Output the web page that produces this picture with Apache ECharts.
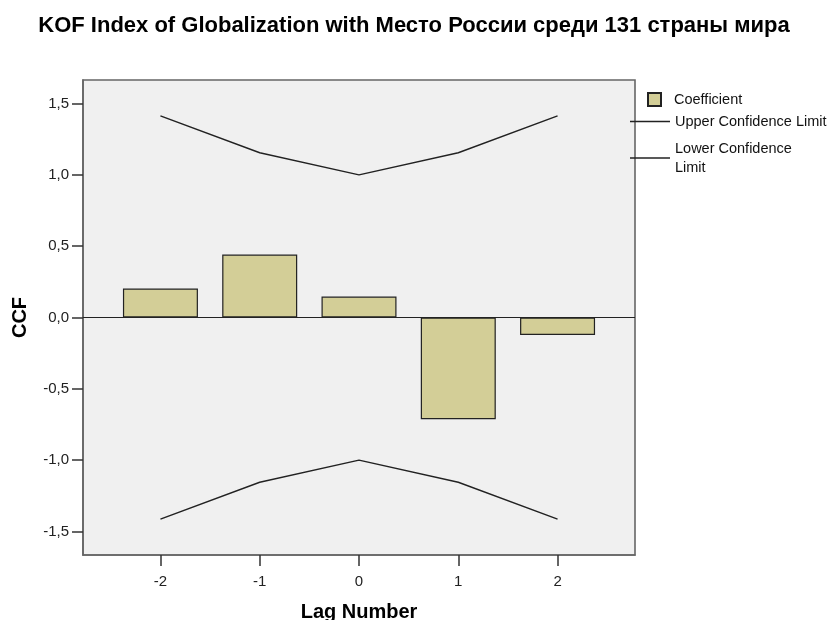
<!DOCTYPE html>
<html>
<head>
<meta charset="utf-8">
<script src="https://cdn.jsdelivr.net/npm/echarts@6/dist/echarts.min.js"></script>
<style>
html,body{margin:0;padding:0;background:#fff;}
#chart{width:828px;height:620px;}
</style>
</head>
<body>
<div id="chart"></div>
<script>
var lags = [-2, -1, 0, 1, 2];
var coefficient = [0.203, 0.441, 0.147, -0.713, -0.122];
var upperLimit = [1.414, 1.155, 1.0, 1.155, 1.414];
var lowerLimit = [-1.414, -1.155, -1.0, -1.155, -1.414];
var yTicks = [-1.5, -1.0, -0.5, 0.0, 0.5, 1.0, 1.5];
var titleText = 'KOF Index of Globalization with Место России среди 131 страны мира';

function pairs(xs, ys) { return xs.map(function (x, i) { return [x, ys[i]]; }); }

var font = 'Liberation Sans, Arial, sans-serif';
var chart = echarts.init(document.getElementById('chart'), null, {renderer: 'canvas'});
chart.setOption({
  animation: false,
  backgroundColor: '#ffffff',
  title: {
    text: titleText,
    left: 'center',
    top: 15,
    padding: 0,
    textStyle: {fontFamily: font, fontSize: 22, fontWeight: 'bold', color: '#000'}
  },
  legend: [
    {
      data: ['Coefficient'],
      left: 647, top: 92,
      padding: 0,
      icon: 'rect',
      itemWidth: 13, itemHeight: 13,
      textStyle: {fontFamily: font, fontSize: 14.5, color: '#111', padding: [0, 0, 0, 8]}
    },
    {
      data: ['Upper Confidence Limit'],
      left: 630, top: 114,
      padding: 0,
      icon: 'rect',
      itemWidth: 40, itemHeight: 1.5,
      textStyle: {fontFamily: font, fontSize: 14.5, color: '#111'}
    },
    {
      data: ['Lower Confidence Limit'],
      left: 630, top: 139,
      padding: 0,
      icon: 'rect',
      itemWidth: 40, itemHeight: 1.5,
      formatter: function () { return 'Lower Confidence\nLimit'; },
      textStyle: {fontFamily: font, fontSize: 14.5, color: '#111', lineHeight: 19}
    }
  ],
  grid: {
    left: 83, top: 80, width: 552, height: 475,
    outerBoundsMode: 'none',
    containLabel: false,
    show: true,
    backgroundColor: '#f0f0f0',
    borderColor: '#666',
    borderWidth: 1.6
  },
  xAxis: {
    type: 'value',
    min: -2.78, max: 2.78,
    name: 'Lag Number',
    nameLocation: 'middle',
    nameGap: 47,
    nameTextStyle: {fontFamily: font, fontSize: 20, fontWeight: 'bold', color: '#000'},
    axisLine: {show: true, onZero: false, lineStyle: {color: '#666', width: 1.6}},
    splitLine: {show: false},
    axisTick: {show: true, customValues: lags, length: 11, lineStyle: {color: '#333', width: 1.5}},
    axisLabel: {customValues: lags, margin: 19, fontFamily: font, fontSize: 15, color: '#222'}
  },
  yAxis: {
    type: 'value',
    min: -1.665, max: 1.665,
    name: 'CCF',
    nameLocation: 'middle',
    nameGap: 53,
    nameRotate: 90,
    nameTextStyle: {fontFamily: font, fontSize: 20, fontWeight: 'bold', color: '#000'},
    axisLine: {show: true, onZero: false, lineStyle: {color: '#666', width: 1.6}},
    splitLine: {show: false},
    axisTick: {show: true, customValues: yTicks, length: 11, lineStyle: {color: '#333', width: 1.5}},
    axisLabel: {
      customValues: yTicks, margin: 14, fontFamily: font, fontSize: 15, color: '#222',
      formatter: function (v) { return v.toFixed(1).replace('.', ','); }
    }
  },
  series: [
    {
      name: 'Coefficient',
      type: 'bar',
      barWidth: 75,
      data: pairs(lags, coefficient),
      itemStyle: {color: '#d3ce97', borderColor: '#222', borderWidth: 1.2},
      markLine: {
        silent: true,
        symbol: 'none',
        label: {show: false},
        lineStyle: {color: '#222', width: 1.2, type: 'solid'},
        data: [{yAxis: 0}]
      }
    },
    {
      name: 'Upper Confidence Limit',
      type: 'line',
      symbol: 'none',
      data: pairs(lags, upperLimit),
      itemStyle: {color: '#222'},
      lineStyle: {color: '#222', width: 1.4}
    },
    {
      name: 'Lower Confidence Limit',
      type: 'line',
      symbol: 'none',
      data: pairs(lags, lowerLimit),
      itemStyle: {color: '#222'},
      lineStyle: {color: '#222', width: 1.4}
    }
  ]
});
</script>
</body>
</html>
